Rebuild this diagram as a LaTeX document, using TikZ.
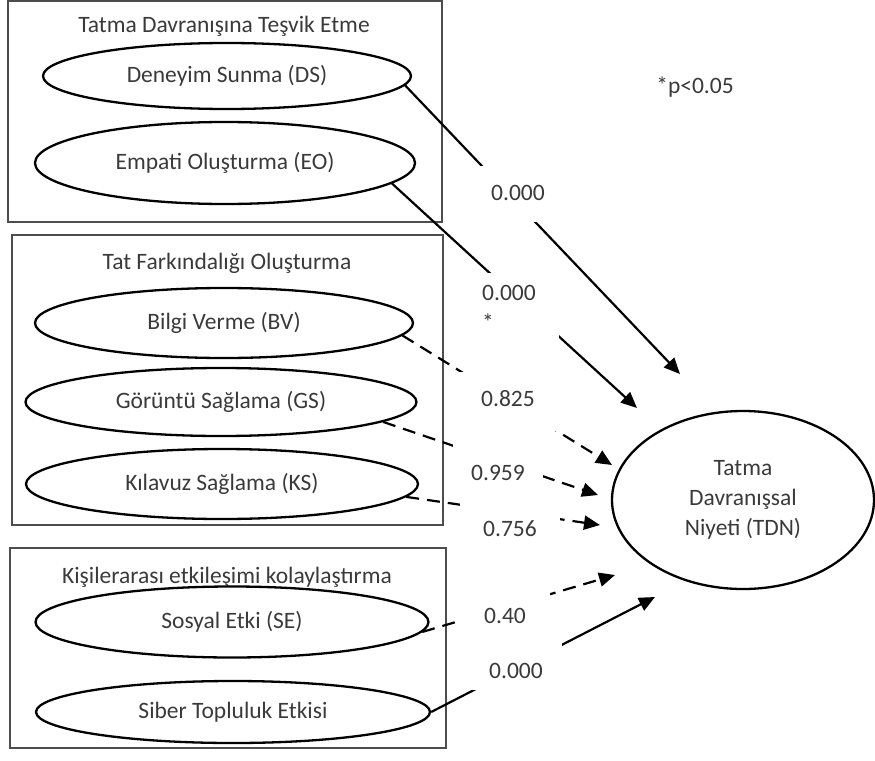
\documentclass[tikz,border=0pt]{standalone}
\usepackage{fontspec}
\setmainfont{Carlito}
\usetikzlibrary{shapes.geometric, arrows.meta, positioning}
\definecolor{TextGray}{HTML}{3A3A3A}
\definecolor{BoxGray}{HTML}{4D4D4D}

\begin{document}
\begin{tikzpicture}[
    x=1pt, y=-1pt,
    every node/.style={font=\fontsize{23.5}{30}\selectfont, text=TextGray},
    grp/.style={draw=BoxGray, line width=1.3pt, inner sep=0pt},
    grptitle/.style={anchor=base, inner sep=0pt},
    fac/.style={ellipse, draw=black, line width=2.3pt, inner sep=0pt},
    sig/.style={draw=black, line width=2.2pt, -{Triangle[length=16pt, width=14pt]}},
    nsig/.style={sig, dash pattern=on 13pt off 8pt},
    coef/.style={fill=white, inner sep=0pt, anchor=base}
  ]
  \useasboundingbox (0,0) rectangle (875,760);

  % Groups
  \node[grp, minimum width=434pt, minimum height=221pt] (grpTDT) at (225,111.5) {};
  \node[grp, minimum width=431pt, minimum height=290pt] (grpTFO) at (227.5,380) {};
  \node[grp, minimum width=436pt, minimum height=200pt] (grpKEK) at (228,648) {};
  \node[grptitle] (tTDT) at (224,33) {Tatma Davranışına Teşvik Etme};
  \node[grptitle] (tTFO) at (227,269) {Tat Farkındalığı Oluşturma};
  \node[grptitle] (tKEK) at (227,583) {Kişilerarası etkileşimi kolaylaştırma};

  % Factors
  \node[fac, minimum width=368pt, minimum height=66pt] (ds) at (227,76) {Deneyim Sunma (DS)};
  \node[fac, minimum width=380pt, minimum height=82pt] (eo) at (225,163) {Empati Oluşturma (EO)};
  \node[fac, minimum width=378pt, minimum height=70pt] (bv) at (224,323) {Bilgi Verme (BV)};
  \node[fac, minimum width=391pt, minimum height=68pt] (gs) at (221,402) {Görüntü Sağlama (GS)};
  \node[fac, minimum width=392pt, minimum height=70pt] (ks) at (222,484) {Kılavuz Sağlama (KS)};
  \node[fac, minimum width=393pt, minimum height=71pt] (se) at (232,622) {Sosyal Etki (SE)};
  \node[fac, minimum width=394pt, minimum height=62pt] (st) at (233,712) {Siber Topluluk Etkisi};
  \node[fac, minimum width=262pt, minimum height=178pt, align=center] (tdn) at (743,500) {Tatma\\Davranışsal\\Niyeti (TDN)};
  \node (note) at (695,87) {*p<0.05};

  % Paths
  \coordinate (dsEnd) at (680,374);
  \coordinate (eoEnd) at (637,408);
  \coordinate (bvEnd) at (612,465);
  \coordinate (gsEnd) at (598,495);
  \coordinate (ksEnd) at (600,525);
  \coordinate (seEnd) at (615,575);
  \coordinate (stEnd) at (655,597);
  \draw[sig] (ds.-3) -- (dsEnd);
  \draw[sig] (eo.-7) -- (eoEnd);
  \draw[nsig] (bv.-4) -- (bvEnd);
  \draw[nsig] (gs.-7) -- (gsEnd);
  \draw[nsig] (ks.-4) -- (ksEnd);
  \draw[nsig] (se.-3) -- (seEnd);
  \draw[sig] (st.east) -- (stEnd);

  % Coefficients
  \node[coef, minimum width=80pt, text height=34pt, text depth=22pt] (cDS) at (518,200) {0.000};
  \node[coef, anchor=center, align=left, minimum width=100pt, minimum height=70pt] (cEO) at (509,308) {0.000\\*};
  \node[coef, minimum width=100pt, text height=34pt, text depth=25pt] (cBV) at (508,406) {0.825};
  \node[coef, minimum width=90pt, text height=38pt, text depth=5pt] (cGS) at (498,480) {0.959};
  \node[coef, minimum width=100pt, text height=36pt, text depth=5pt] (cKS) at (510,536) {0.756};
  \node[coef, minimum width=90pt, text height=33pt, text depth=20pt] (cSE) at (505,623) {0.40};
  \node[coef, minimum width=92pt, text height=36pt, text depth=12pt] (cST) at (516,678) {0.000};
\end{tikzpicture}
\end{document}
